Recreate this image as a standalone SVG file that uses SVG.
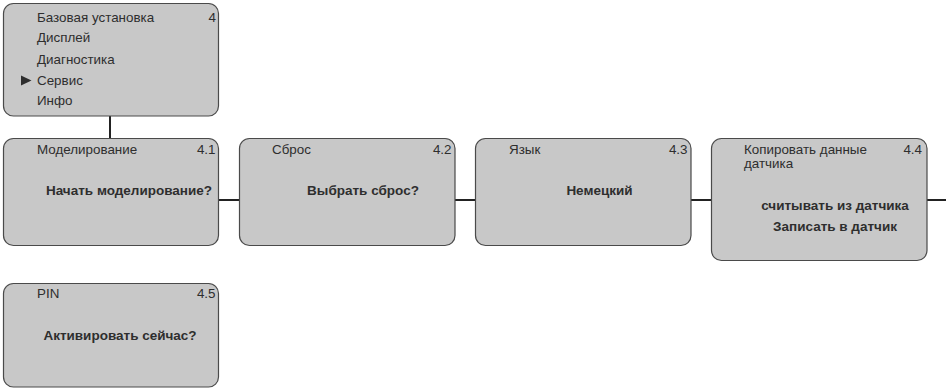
<svg xmlns="http://www.w3.org/2000/svg" width="951" height="389" viewBox="0 0 951 389">
<style>
.box{fill:#c8c8c8;stroke:#4a4a4a;stroke-width:1.2}
.t{font-family:"Liberation Sans",Arial,sans-serif;font-size:13.4px;fill:#2e2e2e}
.b{font-family:"Liberation Sans",Arial,sans-serif;font-size:13.5px;font-weight:bold;fill:#2e2e2e;text-anchor:middle}
.r{text-anchor:end}
.c{fill:none;stroke:#222;stroke-width:2}
</style>
<rect width="951" height="389" fill="#fff"/>
<g id="connectors">
<line class="c" x1="110" y1="116" x2="110" y2="138"/>
<line class="c" x1="218" y1="200" x2="239" y2="200"/>
<line class="c" x1="455" y1="200" x2="475" y2="200"/>
<line class="c" x1="691" y1="200" x2="711" y2="200"/>
<line class="c" x1="927" y1="200" x2="946" y2="200"/>
</g>
<g id="node-4">
<rect class="box" x="3.5" y="3.5" width="215" height="112.5" rx="10"/>
<text class="t" x="37" y="21.5">Базовая установка</text>
<text class="t r" x="216" y="21.5">4</text>
<text class="t" x="37" y="42">Дисплей</text>
<text class="t" x="37" y="63.5">Диагностика</text>
<polygon points="21,75.5 21,85.5 31.5,80.5" fill="#2e2e2e"/>
<text class="t" x="37" y="84.5">Сервис</text>
<text class="t" x="37" y="105">Инфо</text>
</g>
<g id="node-4-1">
<rect class="box" x="3.5" y="138.5" width="215" height="107" rx="10"/>
<text class="t" x="37" y="153.5">Моделирование</text>
<text class="t r" x="215.5" y="153.5">4.1</text>
<text class="b" x="129" y="194.5">Начать моделирование?</text>
</g>
<g id="node-4-2">
<rect class="box" x="239.5" y="138.5" width="215.5" height="107" rx="10"/>
<text class="t" x="272" y="153.5">Сброс</text>
<text class="t r" x="451.5" y="153.5">4.2</text>
<text class="b" x="363" y="194.5">Выбрать сброс?</text>
</g>
<g id="node-4-3">
<rect class="box" x="475.5" y="138.5" width="215.5" height="107" rx="10"/>
<text class="t" x="509" y="153.5">Язык</text>
<text class="t r" x="687.5" y="153.5">4.3</text>
<text class="b" x="599.5" y="195">Немецкий</text>
</g>
<g id="node-4-4">
<rect class="box" x="711.5" y="138.5" width="215.5" height="122" rx="10"/>
<text class="t" x="744" y="154">Копировать данные</text>
<text class="t" x="744" y="168">датчика</text>
<text class="t r" x="922" y="154">4.4</text>
<text class="b" x="835" y="210">считывать из датчика</text>
<text class="b" x="835" y="231">Записать в датчик</text>
</g>
<g id="node-4-5">
<rect class="box" x="3.5" y="283.5" width="215" height="103.5" rx="10"/>
<text class="t" x="37" y="297.5">PIN</text>
<text class="t r" x="215.5" y="297.5">4.5</text>
<text class="b" x="120" y="339.5">Активировать сейчас?</text>
</g>
</svg>
